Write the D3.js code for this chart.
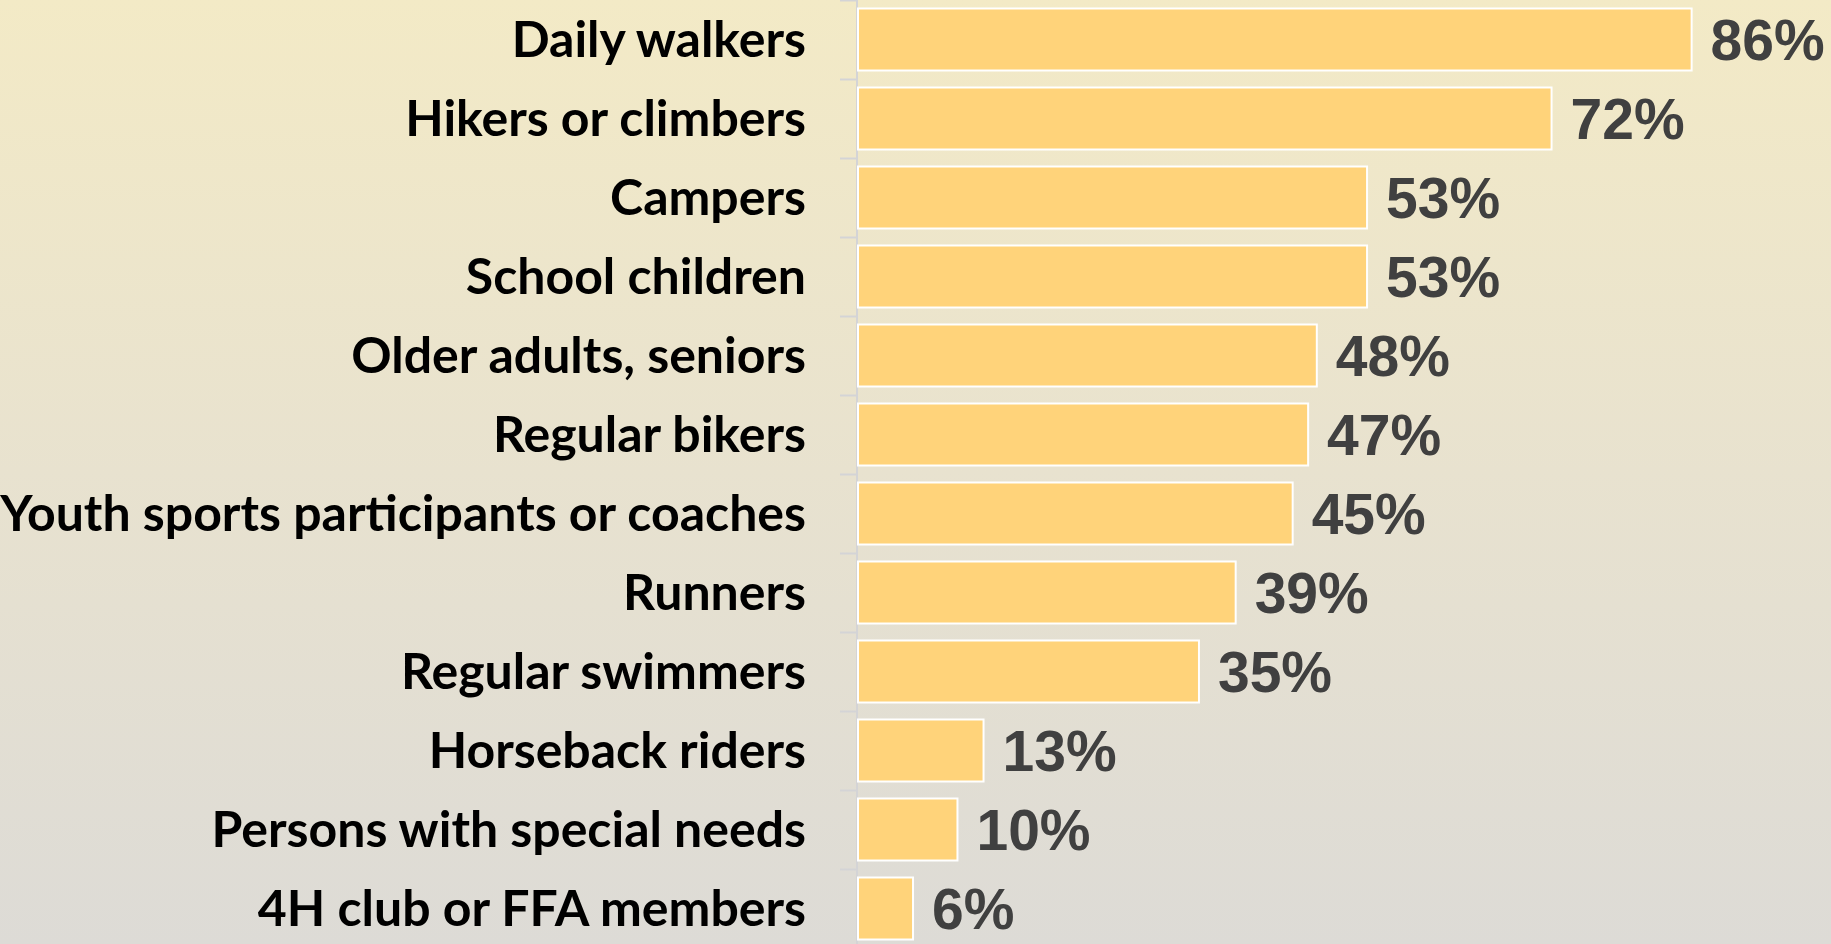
<!DOCTYPE html>
<html>
<head>
<meta charset="utf-8">
<script src="https://cdn.jsdelivr.net/npm/d3@7"></script>
<style>
html, body { margin: 0; padding: 0; overflow: hidden; }
svg { display: block; }
</style>
</head>
<body>
<svg id="chart" width="1831" height="944"></svg>
<script>
const categories = [
  "Daily walkers",
  "Hikers or climbers",
  "Campers",
  "School children",
  "Older adults, seniors",
  "Regular bikers",
  "Youth sports participants or coaches",
  "Runners",
  "Regular swimmers",
  "Horseback riders",
  "Persons with special needs",
  "4H club or FFA members"
];
const values = [86.4, 71.9, 52.8, 52.8, 47.6, 46.7, 45.1, 39.2, 35.4, 13.1, 10.4, 5.8];
const xDomain = [0, 100];

const W = 1831, H = 944;
const svg = d3.select("#chart");

// background gradient
const defs = svg.append("defs");
const grad = defs.append("linearGradient").attr("id", "bg")
  .attr("x1", 0).attr("y1", 0).attr("x2", 0).attr("y2", 1);
grad.append("stop").attr("offset", "0%").attr("stop-color", "#F3EAC6");
grad.append("stop").attr("offset", "50%").attr("stop-color", "#E8E2CF");
grad.append("stop").attr("offset", "100%").attr("stop-color", "#DDDBD6");
svg.append("rect").attr("width", W).attr("height", H).attr("fill", "url(#bg)");

const axisX = 857;
const x = d3.scaleLinear().domain(xDomain).range([axisX, 1823]);
const y = d3.scaleBand().domain(categories).range([0, 948])
  .paddingInner(0.215).paddingOuter(0.1075);

// axis with ticks at band boundaries
const g = svg.append("g");
const step = y.step();
const boundaries = d3.range(categories.length + 1).map(i => y.range()[0] + i * step);
g.append("line")
  .attr("x1", axisX).attr("x2", axisX)
  .attr("y1", 0).attr("y2", H)
  .attr("stroke", "#D4D4D6").attr("stroke-width", 2);
g.selectAll("line.tick").data(boundaries).enter().append("line")
  .attr("class", "tick")
  .attr("x1", axisX - 17).attr("x2", axisX)
  .attr("y1", d => d + 0.5).attr("y2", d => d + 0.5)
  .attr("stroke", "#D4D4D6").attr("stroke-width", 2);

// bars
svg.selectAll("rect.bar").data(values).enter().append("rect")
  .attr("class", "bar")
  .attr("x", x(0) + 1)
  .attr("y", (d, i) => y(categories[i]))
  .attr("width", d => x(d) - x(0) - 1)
  .attr("height", y.bandwidth())
  .attr("fill", "#FFD37A")
  .attr("stroke", "#FFFFFF")
  .attr("stroke-width", 2);

// value labels
const vfs = 57;
svg.selectAll("text.val").data(values).enter().append("text")
  .attr("class", "val")
  .attr("x", d => x(d) + 19)
  .attr("y", (d, i) => y(categories[i]) + y.bandwidth() / 2 + vfs * 0.358)
  .attr("font-family", "'Liberation Sans', Arial, sans-serif")
  .attr("font-weight", "bold")
  .attr("font-size", vfs)
  .attr("fill", "#404040")
  .text(d => Math.round(d) + "%");

// category labels
const labelFont = "Lato, 'Open Sans', sans-serif";
const probe = svg.append("text")
  .attr("font-family", labelFont).attr("font-weight", "bold").attr("font-size", 50)
  .text(categories[6]);
const w50 = probe.node().getComputedTextLength();
probe.remove();
const cfs = 50 * 806 / w50;
svg.selectAll("text.cat").data(categories).enter().append("text")
  .attr("class", "cat")
  .attr("x", 806)
  .attr("y", d => y(d) + y.bandwidth() / 2 + cfs * 0.35)
  .attr("text-anchor", "end")
  .attr("font-family", labelFont)
  .attr("font-weight", "bold")
  .attr("font-size", cfs)
  .attr("fill", "#000000")
  .text(d => d);
</script>
</body>
</html>
